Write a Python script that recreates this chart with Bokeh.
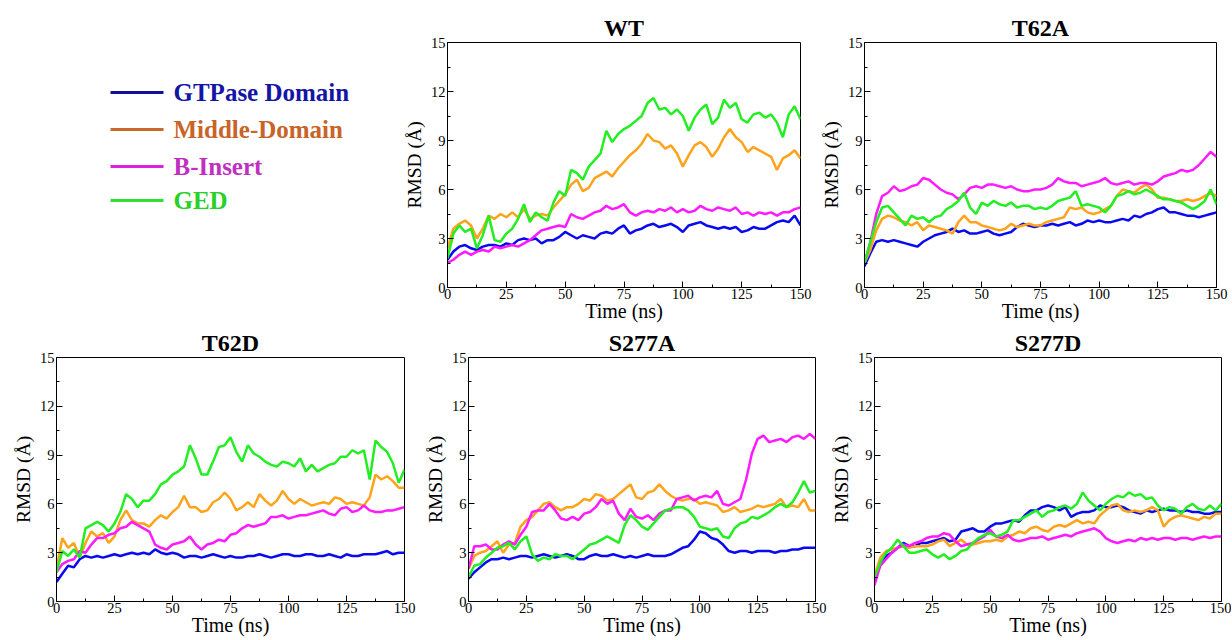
from bokeh.plotting import figure
from bokeh.layouts import row, column
from bokeh.models import Range1d, FixedTicker
from bokeh.core.properties import value
from bokeh.embed import file_html
from bokeh.resources import INLINE

# ---------------- data ----------------
TIME = [i * 2.5 for i in range(61)]  # ns, sampling grid of the traces

SERIES_NAMES = ["GTPase Domain", "Middle-Domain", "B-Insert", "GED"]
LINE_COLORS = ["#0a0af0", "#ffa31a", "#ff1aff", "#22ee22"]
LEGEND_LINE_COLORS = ["#10109c", "#c8682a", "#e020e0", "#30e030"]
LEGEND_TEXT_COLORS = ["#1515a5", "#c86428", "#c030c0", "#28d028"]

X_TICKS = [0, 25, 50, 75, 100, 125, 150]
Y_TICKS = [0, 3, 6, 9, 12, 15]

WT_GTPASE = [1.7, 2.2, 2.5, 2.6, 2.4, 2.3, 2.5, 2.6, 2.6, 2.5, 2.7, 2.6, 2.9, 3.0, 2.9, 3.0, 2.7, 2.9, 2.9, 3.1,
             3.4, 3.2, 3.0, 3.2, 3.1, 3.0, 3.3, 3.4, 3.3, 3.6, 3.8, 3.3, 3.5, 3.6, 3.8, 3.9, 3.7, 3.8, 3.9, 3.7,
             3.4, 3.8, 3.9, 4.0, 3.8, 3.7, 3.6, 3.7, 3.6, 3.7, 3.4, 3.5, 3.7, 3.6, 3.6, 3.8, 4.0, 4.1, 4.0, 4.4, 3.8]
WT_MIDDLE = [2.4, 3.6, 3.9, 4.1, 3.8, 3.0, 3.6, 4.4, 4.2, 4.5, 4.3, 4.6, 4.3, 4.8, 4.2, 4.4, 4.5, 4.4, 4.9, 5.3,
             5.7, 6.3, 6.6, 5.9, 6.1, 6.7, 6.9, 7.1, 6.8, 7.3, 7.7, 8.1, 8.4, 8.8, 9.4, 9.0, 8.9, 8.5, 8.7, 8.2,
             7.4, 8.1, 8.7, 8.9, 8.6, 8.0, 8.5, 9.2, 9.7, 9.2, 8.9, 8.3, 8.6, 8.4, 8.2, 8.0, 7.2, 7.9, 8.1, 8.4, 7.9]
WT_BINSERT = [1.5, 1.7, 2.0, 2.2, 2.0, 2.2, 2.3, 2.2, 2.5, 2.4, 2.5, 2.6, 2.5, 2.7, 2.9, 3.2, 3.5, 3.6, 3.7, 3.8,
              3.7, 4.5, 4.3, 4.2, 4.4, 4.6, 4.7, 5.0, 4.8, 4.9, 5.1, 4.6, 4.4, 4.6, 4.7, 4.6, 4.8, 4.7, 4.9, 4.6,
              4.8, 4.6, 4.7, 5.0, 4.8, 4.7, 4.9, 4.8, 4.7, 4.9, 4.5, 4.6, 4.4, 4.6, 4.5, 4.6, 4.4, 4.6, 4.6, 4.8, 4.9]
WT_GED = [1.8, 3.3, 3.8, 3.4, 3.6, 2.4, 3.2, 4.4, 2.9, 2.8, 3.3, 3.6, 4.2, 5.1, 4.0, 4.6, 4.3, 4.1, 5.2, 5.9,
          5.6, 7.2, 7.0, 6.6, 7.4, 7.8, 8.2, 9.6, 8.9, 9.4, 9.7, 9.9, 10.2, 10.5, 11.3, 11.6, 10.9, 11.0, 10.6, 10.9,
          10.5, 9.6, 10.4, 10.9, 11.2, 10.0, 10.4, 11.5, 11.0, 11.3, 10.3, 10.1, 10.6, 10.7, 10.4, 10.6, 10.1, 9.2, 10.6, 11.1, 10.3]

T62A_GTPASE = [1.3, 2.1, 2.8, 2.9, 2.8, 2.9, 2.8, 2.7, 2.6, 2.5, 2.8, 3.0, 3.2, 3.3, 3.4, 3.6, 3.4, 3.5, 3.3, 3.3,
               3.4, 3.5, 3.3, 3.2, 3.3, 3.4, 3.7, 3.9, 3.8, 3.7, 3.8, 3.8, 3.9, 3.8, 3.9, 4.0, 3.8, 3.9, 4.1, 4.0,
               4.1, 4.0, 4.0, 4.1, 4.2, 4.1, 4.4, 4.3, 4.5, 4.6, 4.8, 4.9, 4.6, 4.6, 4.5, 4.4, 4.4, 4.3, 4.4, 4.5, 4.6]
T62A_MIDDLE = [1.5, 2.3, 3.5, 4.2, 4.4, 4.3, 4.1, 4.0, 3.8, 4.0, 3.5, 3.8, 3.7, 3.6, 3.5, 3.3, 4.0, 4.4, 4.0, 4.0,
               3.8, 3.7, 3.6, 3.5, 3.6, 3.9, 3.7, 3.8, 3.9, 3.8, 3.8, 4.0, 4.1, 4.2, 4.3, 4.9, 4.8, 4.9, 4.6, 4.5,
               4.6, 4.8, 5.0, 5.6, 6.0, 5.9, 5.8, 6.1, 6.3, 6.0, 5.5, 5.5, 5.4, 5.3, 5.3, 5.4, 5.3, 5.4, 5.6, 5.8, 5.6]
T62A_BINSERT = [1.5, 2.8, 4.5, 5.6, 5.8, 6.2, 5.9, 6.0, 6.2, 6.3, 6.7, 6.6, 6.3, 6.0, 5.8, 5.7, 5.4, 5.7, 6.1, 6.2,
                6.1, 6.3, 6.3, 6.2, 6.1, 6.2, 6.0, 5.9, 5.9, 6.0, 6.0, 6.1, 6.3, 6.7, 6.5, 6.4, 6.4, 6.2, 6.3, 6.4,
                6.5, 6.7, 6.4, 6.3, 6.4, 6.5, 6.3, 6.4, 6.4, 6.3, 6.5, 6.8, 6.9, 7.0, 7.2, 7.1, 7.2, 7.5, 7.9, 8.3, 8.0]
T62A_GED = [1.5, 2.8, 4.0, 4.9, 5.0, 4.6, 4.2, 3.8, 4.4, 4.2, 4.3, 4.0, 4.3, 4.4, 4.8, 5.0, 5.3, 5.8, 4.9, 4.5,
            5.2, 5.0, 5.3, 5.1, 5.0, 5.2, 4.9, 5.0, 5.0, 4.8, 4.9, 4.8, 5.0, 5.3, 5.4, 5.5, 5.9, 5.0, 5.1, 5.0,
            4.9, 4.6, 5.0, 5.6, 5.7, 5.9, 5.7, 5.8, 6.0, 5.8, 5.6, 5.4, 5.4, 5.3, 5.2, 5.0, 4.8, 5.0, 5.3, 6.0, 5.1]

T62D_GTPASE = [1.2, 1.7, 2.2, 2.1, 2.6, 2.8, 2.7, 2.8, 2.7, 2.8, 2.9, 2.8, 2.9, 3.0, 2.9, 3.0, 2.9, 3.2, 3.0, 2.9,
               3.0, 2.9, 2.7, 2.8, 2.8, 2.7, 2.8, 2.9, 2.8, 2.7, 2.8, 2.7, 2.7, 2.8, 2.8, 2.9, 2.8, 2.7, 2.8, 2.9,
               2.9, 2.8, 2.8, 2.9, 2.9, 2.8, 2.8, 2.9, 2.8, 2.7, 2.9, 2.8, 2.8, 2.9, 2.9, 2.9, 3.0, 3.1, 2.9, 3.0, 3.0]
T62D_MIDDLE = [2.0, 3.9, 3.3, 3.6, 2.7, 3.6, 4.3, 4.0, 4.2, 3.6, 4.0, 5.0, 5.6, 5.0, 4.8, 4.8, 4.6, 5.0, 5.3, 5.1,
               5.5, 5.8, 6.5, 5.8, 5.8, 5.5, 5.6, 6.1, 6.3, 6.7, 6.3, 5.6, 5.8, 6.1, 5.8, 6.6, 6.2, 5.9, 6.2, 6.8,
               6.3, 6.0, 6.3, 6.1, 5.9, 6.0, 6.1, 6.0, 6.4, 6.3, 6.0, 6.1, 6.0, 5.9, 6.4, 7.8, 7.5, 7.7, 7.4, 7.0, 7.0]
T62D_BINSERT = [1.8, 2.3, 2.5, 2.6, 3.1, 3.0, 3.5, 3.9, 3.9, 4.1, 4.2, 4.5, 4.6, 4.9, 4.7, 4.5, 4.3, 3.5, 3.3, 3.2,
                3.5, 3.6, 3.7, 4.0, 3.5, 3.2, 3.5, 3.6, 3.8, 3.7, 4.1, 4.2, 4.5, 4.7, 4.6, 4.7, 4.8, 5.2, 5.2, 5.3,
                5.1, 5.2, 5.3, 5.3, 5.4, 5.5, 5.6, 5.4, 5.3, 5.7, 5.8, 5.5, 5.6, 5.9, 5.6, 5.5, 5.5, 5.6, 5.6, 5.7, 5.8]
T62D_GED = [1.8, 3.1, 2.8, 3.2, 2.7, 4.5, 4.7, 4.9, 4.7, 4.3, 4.8, 5.5, 6.6, 6.3, 5.8, 6.2, 6.2, 6.6, 7.2, 7.4,
            7.8, 8.0, 8.3, 9.6, 8.8, 7.8, 7.8, 8.6, 9.5, 9.6, 10.1, 9.2, 8.6, 9.6, 9.1, 8.9, 8.6, 8.4, 8.3, 8.6,
            8.5, 8.3, 8.8, 8.0, 8.4, 8.0, 8.2, 8.4, 8.5, 8.9, 8.9, 9.3, 9.1, 9.3, 7.5, 9.9, 9.5, 9.2, 8.5, 7.3, 8.1]

S277A_GTPASE = [1.4, 1.8, 2.1, 2.4, 2.6, 2.6, 2.7, 2.6, 2.7, 2.8, 2.8, 2.7, 2.8, 2.9, 2.8, 2.7, 2.8, 2.9, 2.8, 2.6,
                2.6, 2.8, 2.9, 2.8, 2.8, 2.9, 2.8, 2.7, 2.8, 2.7, 2.8, 2.9, 2.8, 2.8, 2.8, 2.9, 3.1, 3.3, 3.4, 3.8,
                4.3, 4.2, 3.9, 3.8, 3.5, 3.1, 3.0, 3.1, 3.1, 3.0, 3.1, 3.1, 3.1, 3.0, 3.1, 3.1, 3.2, 3.2, 3.3, 3.3, 3.3]
S277A_MIDDLE = [2.0, 2.8, 3.0, 3.1, 3.4, 3.7, 3.0, 3.5, 3.6, 4.6, 5.0, 5.2, 5.6, 6.0, 6.1, 5.8, 5.6, 5.8, 5.8, 6.0,
                6.3, 6.2, 6.6, 6.5, 6.2, 6.3, 6.6, 6.9, 7.2, 6.4, 6.3, 6.7, 6.8, 7.2, 6.8, 6.5, 6.3, 6.2, 6.3, 6.3,
                6.0, 6.1, 6.0, 5.9, 5.5, 5.6, 5.8, 5.5, 5.6, 5.7, 5.9, 5.8, 5.9, 6.0, 6.3, 5.8, 5.9, 5.8, 6.3, 5.6, 5.6]
S277A_BINSERT = [2.0, 3.4, 3.4, 3.5, 3.2, 3.2, 3.5, 3.7, 3.5, 4.1, 4.6, 5.5, 5.6, 5.6, 6.0, 5.6, 5.1, 5.0, 5.2, 5.0,
                 5.4, 5.5, 5.8, 6.3, 6.0, 6.2, 5.4, 5.0, 5.7, 5.2, 5.1, 5.3, 5.0, 5.4, 5.6, 5.6, 6.3, 6.4, 6.5, 6.2,
                 6.4, 6.5, 6.4, 6.8, 6.0, 5.9, 6.1, 6.3, 7.5, 9.1, 10.0, 10.2, 9.8, 9.9, 10.0, 9.8, 10.1, 10.2, 10.0, 10.3, 10.0]
S277A_GED = [1.5, 2.2, 2.3, 2.7, 3.0, 3.3, 3.4, 3.6, 3.2, 3.7, 4.0, 2.9, 2.5, 2.7, 2.6, 2.9, 2.8, 2.8, 2.6, 2.9,
             3.2, 3.5, 3.6, 3.8, 4.0, 3.8, 3.6, 4.7, 5.3, 5.0, 4.6, 4.4, 4.8, 5.2, 5.6, 5.7, 5.8, 5.8, 5.6, 5.2,
             4.6, 4.5, 4.4, 4.5, 4.0, 3.9, 4.5, 4.8, 4.9, 5.2, 5.1, 5.3, 5.5, 5.8, 6.0, 5.8, 6.1, 6.7, 7.4, 6.7, 6.8]

S277D_GTPASE = [1.3, 2.4, 2.8, 3.0, 3.3, 3.6, 3.4, 3.4, 3.6, 3.6, 3.7, 3.8, 3.9, 3.7, 3.8, 4.3, 4.4, 4.5, 4.3, 4.3,
                4.6, 4.8, 4.8, 4.9, 5.0, 4.9, 5.3, 5.6, 5.6, 5.8, 5.9, 5.8, 5.6, 5.8, 5.2, 5.4, 5.5, 5.5, 5.6, 5.9,
                5.8, 5.8, 5.9, 5.8, 5.6, 5.5, 5.4, 5.6, 5.5, 5.6, 5.7, 5.6, 5.6, 5.5, 5.6, 5.5, 5.5, 5.4, 5.4, 5.5, 5.5]
S277D_MIDDLE = [1.6, 2.7, 3.1, 3.2, 3.3, 3.4, 3.3, 3.4, 3.4, 3.4, 3.5, 3.7, 3.8, 3.4, 3.6, 3.8, 3.5, 3.5, 3.6, 3.7,
                3.7, 3.8, 3.7, 4.0, 4.1, 4.3, 4.2, 4.5, 4.6, 4.4, 4.3, 4.6, 4.7, 4.6, 4.8, 5.0, 4.8, 4.9, 4.8, 5.3,
                5.6, 5.9, 6.0, 5.6, 5.5, 5.6, 5.5, 5.6, 5.8, 5.6, 4.6, 5.0, 5.2, 5.3, 5.2, 5.1, 5.0, 5.2, 5.1, 5.4, 5.4]
S277D_BINSERT = [1.0, 2.2, 2.6, 3.0, 3.3, 3.5, 3.4, 3.6, 3.7, 3.9, 4.0, 4.0, 4.2, 4.1, 3.7, 3.4, 3.5, 3.6, 3.8, 4.0,
                 4.4, 4.0, 3.9, 4.1, 3.8, 3.7, 3.8, 3.9, 3.9, 4.0, 3.8, 3.9, 4.0, 4.1, 4.0, 4.2, 4.3, 4.4, 4.5, 4.3,
                 3.9, 3.7, 3.6, 3.7, 3.8, 3.7, 3.9, 3.8, 3.9, 3.8, 3.9, 3.9, 3.8, 3.9, 3.9, 3.8, 3.9, 4.0, 3.9, 4.0, 4.0]
S277D_GED = [1.5, 2.4, 3.0, 3.3, 3.8, 3.4, 3.0, 3.0, 3.1, 3.2, 2.9, 2.7, 2.9, 2.6, 2.8, 3.1, 3.2, 3.6, 3.9, 4.1,
             4.2, 4.0, 4.1, 4.3, 5.0, 5.0, 5.2, 5.4, 5.6, 5.2, 5.5, 5.6, 5.8, 5.9, 5.7, 6.0, 6.7, 6.2, 5.9, 5.6,
             6.0, 6.3, 6.5, 6.4, 6.7, 6.5, 6.6, 6.3, 6.4, 5.9, 5.6, 5.8, 5.7, 5.4, 5.8, 6.0, 5.7, 5.6, 5.9, 5.6, 6.0]

PANELS = {
    "WT": [WT_GTPASE, WT_MIDDLE, WT_BINSERT, WT_GED],
    "T62A": [T62A_GTPASE, T62A_MIDDLE, T62A_BINSERT, T62A_GED],
    "T62D": [T62D_GTPASE, T62D_MIDDLE, T62D_BINSERT, T62D_GED],
    "S277A": [S277A_GTPASE, S277A_MIDDLE, S277A_BINSERT, S277A_GED],
    "S277D": [S277D_GTPASE, S277D_MIDDLE, S277D_BINSERT, S277D_GED],
}

FONT = "Liberation Serif, Times New Roman, serif"

TOP_B, TOP_FH, TOP_BB = 42, 245, 37      # top row: border above, frame height, border below
BOT_B, BOT_FH, BOT_BB = 33, 244, 37      # bottom row


def make_panel(name, left, fw, right, top, fh, bottom):
    p = figure(frame_width=fw, frame_height=fh, title=name,
               x_range=Range1d(0, 150), y_range=Range1d(0, 15),
               output_backend="svg", toolbar_location=None,
               min_border_left=left, min_border_right=right,
               min_border_top=top, min_border_bottom=bottom)
    p.title.text_font = FONT
    p.title.text_font_size = "24px"
    p.title.text_font_style = "bold"
    p.title.text_color = "black"
    p.title.align = "center"
    p.title.standoff = 3
    p.title.offset = 0

    p.xaxis.ticker = FixedTicker(ticks=X_TICKS,
                                 minor_ticks=[t + 12.5 for t in X_TICKS[:-1]])
    p.yaxis.ticker = FixedTicker(ticks=Y_TICKS,
                                 minor_ticks=[t + 1.5 for t in Y_TICKS[:-1]])
    p.xaxis.axis_label = "Time (ns)"
    p.yaxis.axis_label = "RMSD (Å)"
    for ax in (p.xaxis, p.yaxis):
        ax.axis_label_text_font = FONT
        ax.axis_label_text_font_style = "normal"
        ax.axis_label_text_color = "black"
        ax.major_label_text_font = FONT
        ax.major_label_text_font_size = "14.5px"
        ax.major_label_text_color = "black"
        ax.major_tick_in = 6
        ax.major_tick_out = 0
        ax.minor_tick_in = 3
        ax.minor_tick_out = 0
        ax.major_tick_line_color = "black"
        ax.minor_tick_line_color = "black"
        ax.axis_line_color = "black"
        ax.major_label_standoff = 2
    p.xaxis.major_label_standoff = 1
    p.xaxis.axis_label_standoff = -2
    p.yaxis.axis_label_standoff = 3
    p.xaxis.axis_label_text_font_size = "20px"
    p.yaxis.axis_label_text_font_size = "19.5px"
    p.grid.visible = False
    p.outline_line_color = "black"
    p.outline_line_alpha = 1.0
    p.background_fill_color = "white"
    p.border_fill_color = "white"

    for vals, col in zip(PANELS[name], LINE_COLORS):
        p.line(TIME, vals, line_color=col, line_width=2.5)
    return p


# legend panel drawn with glyphs; data coordinates equal page pixels
leg = figure(frame_width=400, frame_height=TOP_FH,
             x_range=Range1d(0, 400), y_range=Range1d(TOP_B + TOP_FH, TOP_B),
             output_backend="svg", toolbar_location=None,
             x_axis_type=None, y_axis_type=None,
             min_border_left=0, min_border_right=0,
             min_border_top=TOP_B, min_border_bottom=TOP_BB)
leg.grid.visible = False
leg.outline_line_color = None
leg.background_fill_color = "white"
leg.border_fill_color = "white"
LEG_Y = [92, 129, 166, 200]
leg.segment(x0=[110] * 4, y0=LEG_Y, x1=[163] * 4, y1=LEG_Y,
            line_color=LEGEND_LINE_COLORS, line_width=3)
leg.text(x=[173] * 4, y=LEG_Y, text=SERIES_NAMES, text_color=LEGEND_TEXT_COLORS,
         text_font=value(FONT), text_font_size="25px", text_font_style="bold",
         text_baseline="middle", text_align="left")

wt = make_panel("WT", 45, 353, 12, TOP_B, TOP_FH, TOP_BB)
t62a = make_panel("T62A", 52, 352, 16, TOP_B, TOP_FH, TOP_BB)
t62d = make_panel("T62D", 56, 348, 16, BOT_B, BOT_FH, BOT_BB)
s277a = make_panel("S277A", 48, 347, 12, BOT_B, BOT_FH, BOT_BB)
s277d = make_panel("S277D", 46, 347, 10, BOT_B, BOT_FH, BOT_BB)

layout = column(row(leg, wt, t62a), row(t62d, s277a, s277d))

open("out.html", "w").write(file_html(layout, INLINE))
